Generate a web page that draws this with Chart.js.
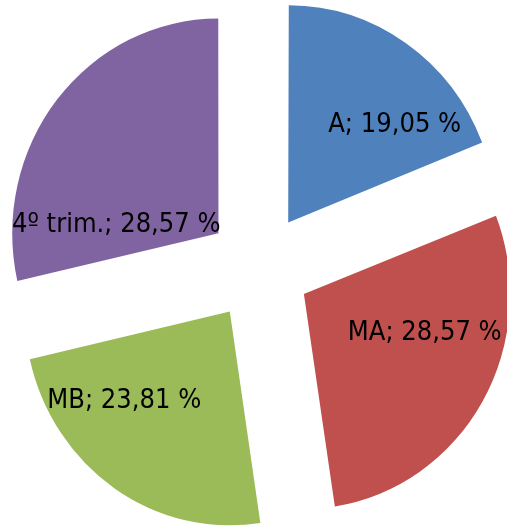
<!DOCTYPE html>
<html><head><meta charset="utf-8">
<script src="https://cdn.jsdelivr.net/npm/chart.js@4/dist/chart.umd.min.js"></script>
<style>html,body{margin:0;padding:0;background:#fff;}#wrap{width:507px;height:526px;}</style>
</head><body><div id="wrap"><canvas id="c" width="507" height="526"></canvas></div>
<script>
const categories = ['A', 'MA', 'MB', '4º trim.'];
const counts = [4, 6, 5, 6];
const percentLabels = ['19,05 %', '28,57 %', '23,81 %', '28,57 %'];
const colors = ['#4F81BD', '#C0504D', '#9BBB59', '#8064A2'];

const XS = 0.96; // slight horizontal squish of the reference

const squishPlugin = {
  id: 'squish',
  beforeDatasetsDraw(chart) {
    const ctx = chart.ctx;
    const cx = (chart.chartArea.left + chart.chartArea.right) / 2;
    ctx.save();
    ctx.translate(cx, 0);
    ctx.scale(XS, 1);
    ctx.translate(-cx, 0);
  },
  afterDatasetsDraw(chart) {
    chart.ctx.restore();
  }
};

const labelPlugin = {
  id: 'sliceLabels',
  afterDatasetsDraw(chart, args, opts) {
    const ctx = chart.ctx;
    const meta = chart.getDatasetMeta(0);
    ctx.save();
    ctx.fillStyle = '#000';
    ctx.textAlign = 'center';
    ctx.textBaseline = 'middle';
    meta.data.forEach((arc, i) => {
      const mid = (arc.startAngle + arc.endAngle) / 2;
      const off = (arc.options.offset || 0) / 4;
      const p = opts.place[i];
      const a = (p.angle - 90) * Math.PI / 180;
      const r = p.r * arc.outerRadius;
      const ux = Math.cos(mid) * off + Math.cos(a) * r;
      const uy = Math.sin(mid) * off + Math.sin(a) * r;
      const tx = arc.x + ux * XS;
      const ty = arc.y + uy + opts.dy;
      ctx.save();
      ctx.translate(tx, ty);
      ctx.scale(opts.sx, 1);
      ctx.font = opts.font;
      ctx.fillText(categories[i] + '; ' + percentLabels[i], 0, 0);
      ctx.restore();
    });
    ctx.restore();
  }
};

new Chart(document.getElementById('c'), {
  type: 'pie',
  data: {
    labels: categories,
    datasets: [{
      data: counts,
      backgroundColor: colors,
      borderWidth: 0,
      offset: 216,
      clip: false
    }]
  },
  options: {
    responsive: false,
    animation: false,
    radius: 213.5,
    layout: { padding: { left: 11, top: 8 } },
    plugins: {
      legend: { display: false },
      tooltip: { enabled: false },
      sliceLabels: {
        font: '27px "DejaVu Sans"',
        sx: 0.9,
        dy: 2,
        place: [
          { angle: 48.2, r: 0.697 },
          { angle: 106.5, r: 0.615 },
          { angle: 231.6, r: 0.657 },
          { angle: 275.6, r: 0.501 }
        ]
      }
    }
  },
  plugins: [squishPlugin, labelPlugin]
});
</script>
</body></html>
